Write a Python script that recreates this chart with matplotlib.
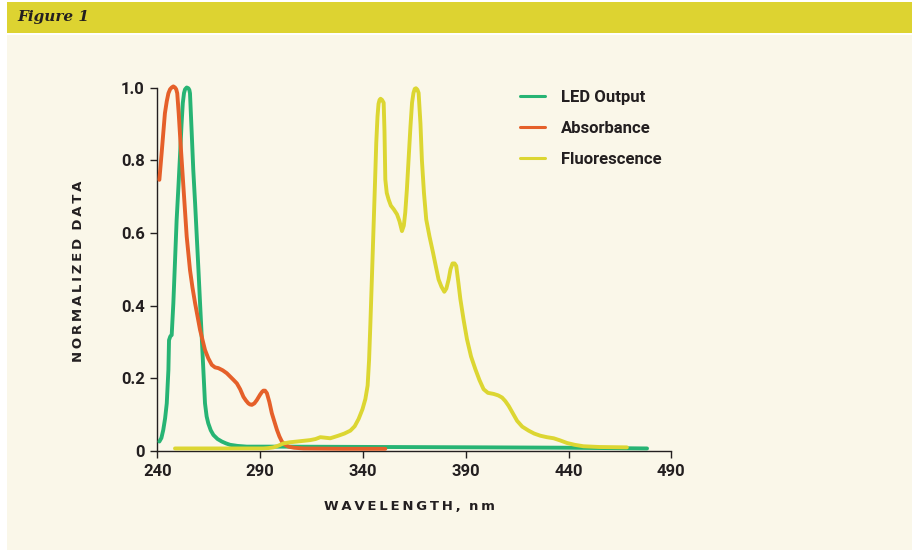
import numpy as np
import matplotlib.pyplot as plt
from matplotlib.patches import Rectangle

# spectra (wavelength in nm, normalized value)
led_wl = [241.0, 242.0, 242.9, 243.8, 244.6, 245.4, 245.7, 246.3, 247.0, 247.8, 248.6,
          249.4, 250.3, 251.1, 251.8, 252.4, 253.0, 253.5, 254.3, 255.1, 255.6, 255.9,
          256.7, 257.5, 258.4, 259.2, 260.0, 260.8, 261.6, 262.4, 263.2, 264.0, 264.8,
          266.0, 267.3, 269.3, 271.4, 273.4, 275.4, 279.0, 283.5, 300, 350, 400, 440, 478.2]
led_y = [0.026, 0.036, 0.058, 0.090, 0.131, 0.223, 0.305, 0.315, 0.319, 0.406, 0.52,
         0.635, 0.73, 0.819, 0.90, 0.957, 0.985, 0.995, 1.0, 0.998, 0.993, 0.984,
         0.88, 0.773, 0.68, 0.59, 0.50, 0.406, 0.315, 0.223, 0.131, 0.095, 0.076,
         0.057, 0.044, 0.033, 0.026, 0.021, 0.017, 0.014, 0.012, 0.012, 0.011, 0.010, 0.009, 0.007]

abs_wl = [241.0, 242.1, 243.7, 244.6, 245.4, 246.2, 247.0, 247.8, 248.6, 249.2, 249.7,
          250.4, 251.1, 252.7, 254.3, 255.9, 257.1, 258.4, 260.8, 263.2, 264.8, 266.5,
          268.1, 269.7, 271.8, 273.8, 275.4, 277.0, 278.7, 280.3, 281.9, 283.1, 284.3,
          285.1, 286.0, 287.2, 288.4, 290.0, 291.0, 291.6, 292.4, 293.3, 294.5, 295.7,
          297.0, 298.2, 299.4, 300.6, 302.2, 303.8, 306.5, 311.1, 330, 350.9]
abs_y = [0.746, 0.819, 0.929, 0.962, 0.984, 0.995, 1.0, 1.003, 1.0, 0.995, 0.984,
         0.93, 0.865, 0.727, 0.59, 0.498, 0.45, 0.406, 0.333, 0.278, 0.255, 0.237,
         0.23, 0.228, 0.222, 0.214, 0.205, 0.196, 0.186, 0.17, 0.149, 0.139, 0.131,
         0.128, 0.127, 0.131, 0.14, 0.155, 0.163, 0.166, 0.166, 0.159, 0.135, 0.104,
         0.08, 0.058, 0.04, 0.026, 0.017, 0.012, 0.009, 0.007, 0.006, 0.006]

fl_wl = [248.6, 270, 291.6, 294.0, 296.5, 299.0, 301.4, 304.5, 307.9, 314.4, 317.0,
         319.3, 321.0, 324.1, 328.0, 331.0, 333.9, 336.0, 337.9, 339.8, 341.2, 342.3,
         343.0, 343.6, 344.4, 345.2, 345.9, 346.5, 347.1, 347.6, 348.1, 348.6, 349.3,
         350.1, 350.5, 350.9, 351.6, 352.5, 353.6, 355.0, 356.6, 357.8, 359.0, 359.9,
         360.6, 361.4, 362.2, 363.1, 363.9, 364.6, 365.2, 365.8, 366.5, 367.1, 368.0,
         368.7, 369.7, 370.8, 372.4, 374.1, 375.4, 376.8, 378.2, 379.6, 380.6, 381.7,
         382.6, 383.6, 384.6, 385.4, 386.4, 387.4, 389.0, 390.6, 392.6, 394.7, 396.7,
         398.7, 400.8, 403.6, 405.8, 407.7, 409.3, 410.9, 412.9, 415.0, 417.5, 420.6,
         423.3, 426.3, 429.5, 432.8, 436.0, 439.3, 443.0, 447.3, 455, 468.4]
fl_y = [0.007, 0.007, 0.007, 0.008, 0.01, 0.015, 0.021, 0.024, 0.026, 0.03, 0.033,
        0.038, 0.037, 0.035, 0.042, 0.048, 0.056, 0.068, 0.088, 0.115, 0.143, 0.18,
        0.25, 0.344, 0.48, 0.619, 0.74, 0.848, 0.92, 0.955, 0.966, 0.969, 0.966,
        0.958, 0.88, 0.747, 0.71, 0.692, 0.675, 0.665, 0.651, 0.632, 0.605, 0.62,
        0.656, 0.72, 0.80, 0.89, 0.958, 0.985, 0.996, 0.998, 0.994, 0.985, 0.90,
        0.80, 0.71, 0.637, 0.59, 0.546, 0.51, 0.472, 0.452, 0.438, 0.447, 0.472,
        0.50, 0.516, 0.516, 0.509, 0.465, 0.418, 0.36, 0.308, 0.26, 0.225, 0.195,
        0.170, 0.160, 0.157, 0.153, 0.147, 0.137, 0.124, 0.104, 0.083, 0.067, 0.056,
        0.048, 0.042, 0.038, 0.035, 0.029, 0.022, 0.017, 0.013, 0.011, 0.010]

x_ticks = [240, 290, 340, 390, 440, 490]
y_ticks = [0, 0.2, 0.4, 0.6, 0.8, 1.0]
y_ticklabels = ['0', '0.2', '0.4', '0.6', '0.8', '1.0']

green = '#27b474'
orange = '#e5602a'
yellow = '#dcd632'
ink = '#231f20'
cream = '#faf7e9'

fig = plt.figure(figsize=(9.19, 5.52), dpi=100)
fig.patch.set_facecolor('white')

# cream panel and yellow title band
fig.add_artist(Rectangle((7 / 919, 2 / 552), 905 / 919, 515 / 552,
                         transform=fig.transFigure, facecolor=cream, edgecolor='none', zorder=0))
fig.add_artist(Rectangle((7 / 919, 519 / 552), 905 / 919, 31 / 552,
                         transform=fig.transFigure, facecolor='#ddd331', edgecolor='none', zorder=0))
fig.text(17 / 919, 535 / 552, 'Figure 1', family='DejaVu Serif', style='italic',
         weight='bold', fontsize=11, color=ink, va='center', ha='left')

ax = fig.add_axes([157.3 / 919, 101 / 552, 514 / 919, 363.5 / 552])
ax.set_facecolor('none')

lw = 2.8
ax.plot(led_wl, led_y, color=green, lw=lw, label='LED Output', clip_on=False,
        solid_capstyle='round', solid_joinstyle='round', zorder=3)
ax.plot(abs_wl, abs_y, color=orange, lw=lw, label='Absorbance', clip_on=False,
        solid_capstyle='round', solid_joinstyle='round', zorder=3)
ax.plot(fl_wl, fl_y, color=yellow, lw=lw, label='Fluorescence', clip_on=False,
        solid_capstyle='round', solid_joinstyle='round', zorder=4)

ax.set_xlim(240, 490)
ax.set_ylim(0, 1.0)
ax.set_xticks(x_ticks)
ax.set_yticks(y_ticks)
ax.set_yticklabels(y_ticklabels)

for s in ['top', 'right']:
    ax.spines[s].set_visible(False)
for s in ['left', 'bottom']:
    ax.spines[s].set_color(ink)
    ax.spines[s].set_linewidth(1.0)

ax.tick_params(direction='out', length=5, width=1.0, color=ink, labelcolor=ink,
               labelsize=12, pad=4)
for lab in ax.get_xticklabels() + ax.get_yticklabels():
    lab.set_family('Roboto')
    lab.set_weight('bold')

hs = '\u200a'
ylab = (hs * 2).join('NORMALIZED') + hs * 6 + (hs * 2).join('DATA')
xlab = (hs * 2).join('WAVELENGTH,') + hs * 6 + (hs * 2).join('nm')
fig.text(78.5 / 919, 1 - 271 / 552, ylab, rotation=90, ha='center', va='center',
         family='DejaVu Sans', weight='bold', fontsize=9.5, color=ink)
fig.text(409 / 919, 1 - 507 / 552, xlab, ha='center', va='center',
         family='DejaVu Sans', weight='bold', fontsize=9.5, color=ink)

leg = ax.legend(loc='upper left', bbox_to_anchor=(0.7056, 0.993), frameon=False,
                borderaxespad=0, borderpad=0,
                handlelength=1.5, handletextpad=0.95, labelspacing=0.95,
                prop={'family': 'Roboto', 'weight': 'bold', 'size': 12})
for t in leg.get_texts():
    t.set_color(ink)
for h in leg.get_lines():
    h.set_linewidth(2.2)

fig.savefig('out.png', dpi=100, facecolor=fig.get_facecolor())
